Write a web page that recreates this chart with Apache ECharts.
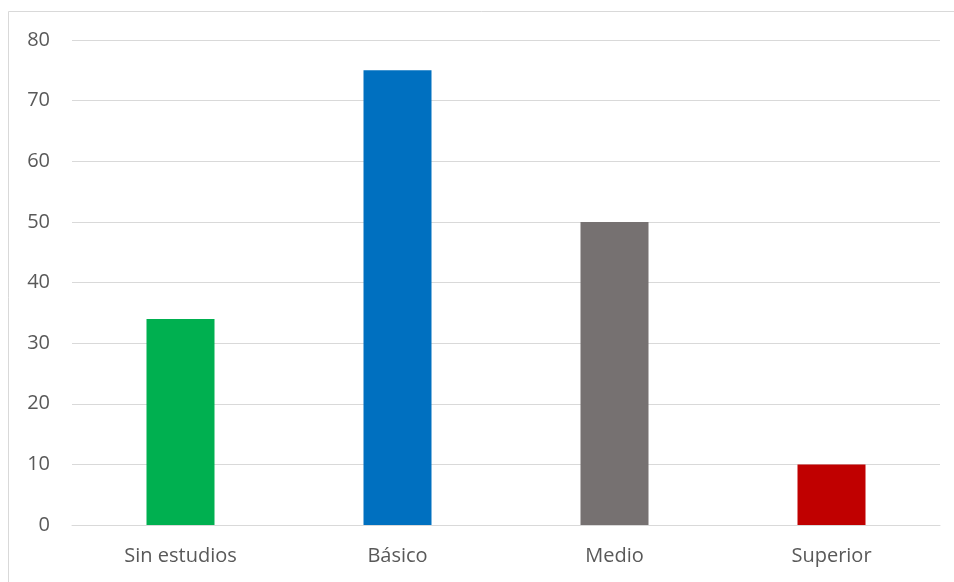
<!DOCTYPE html>
<html><head><meta charset="utf-8">
<script src="https://cdn.jsdelivr.net/npm/echarts@6/dist/echarts.min.js"></script>
<style>html,body{margin:0;padding:0;background:#fff}#c{width:954px;height:582px}</style>
</head><body><div id="c"></div>
<script>
const categories = ['Sin estudios', 'Básico', 'Medio', 'Superior'];
const values = [34, 75, 50, 10];
const barColors = ['#00B050', '#0070C0', '#767171', '#C00000'];
const yTicks = { min: 0, max: 80, interval: 10 };

const chart = echarts.init(document.getElementById('c'), null, { renderer: 'canvas' });
chart.setOption({
  animation: false,
  backgroundColor: '#fff',
  textStyle: { fontFamily: 'Open Sans' },
  graphic: [{
    type: 'rect', shape: { x: 8.5, y: 11.5, width: 1000, height: 700 },
    style: { fill: 'none', stroke: '#d9d9d9', lineWidth: 1 }, silent: true, z: -1
  }],
  grid: { left: 72, right: 14, top: 40, bottom: 57 },
  xAxis: {
    type: 'category', data: categories,
    axisLine: { lineStyle: { color: '#d9d9d9', width: 1 } },
    axisTick: { show: false },
    axisLabel: { color: '#595959', fontSize: 20, margin: 21, fontFamily: 'Open Sans' }
  },
  yAxis: {
    type: 'value', min: yTicks.min, max: yTicks.max, interval: yTicks.interval,
    axisLine: { show: false }, axisTick: { show: false },
    splitLine: { lineStyle: { color: '#d9d9d9', width: 1 } },
    axisLabel: { color: '#595959', fontSize: 20, margin: 22, fontFamily: 'Open Sans' }
  },
  series: [{
    type: 'bar', barWidth: 68,
    data: values.map((v, i) => ({ value: v, itemStyle: { color: barColors[i] } }))
  }]
});
</script></body></html>
